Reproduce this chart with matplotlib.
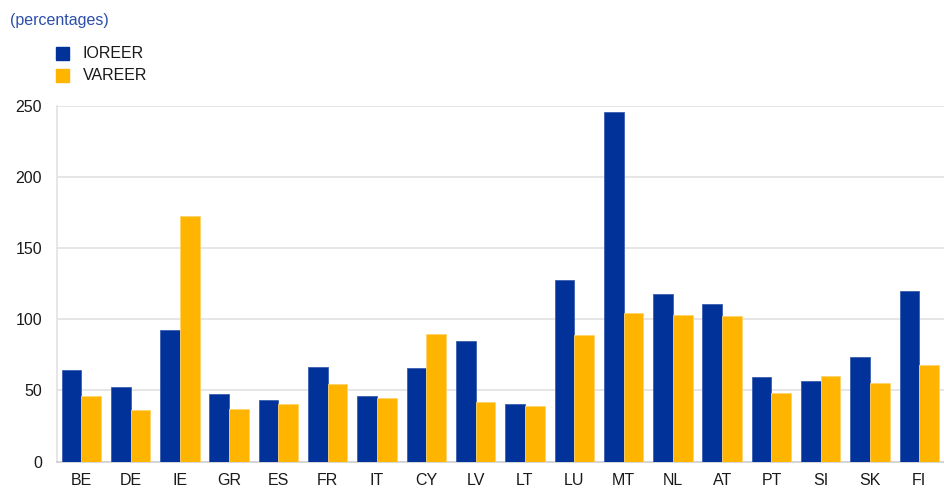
import numpy as np
import matplotlib.pyplot as plt
from matplotlib.patches import Rectangle

plt.rcParams['font.family'] = ['Liberation Sans', 'DejaVu Sans']

countries = ['BE', 'DE', 'IE', 'GR', 'ES', 'FR', 'IT', 'CY', 'LV',
             'LT', 'LU', 'MT', 'NL', 'AT', 'PT', 'SI', 'SK', 'FI']
ioreer = [64.2, 52.3, 92.6, 47.6, 43.1, 66.6, 46.0, 65.6, 84.8,
          40.3, 127.9, 245.6, 117.6, 110.8, 59.8, 56.7, 73.4, 120.0]
vareer = [46.2, 36.6, 172.9, 36.8, 40.6, 54.8, 44.5, 89.5, 42.2,
          39.4, 89.3, 104.7, 103.1, 102.4, 48.1, 60.2, 55.3, 67.7]
series_names = ['IOREER', 'VAREER']
yticks = [0, 50, 100, 150, 200, 250]

blue = '#003299'
yellow = '#ffb400'
grid_col = '#e1e1e1'
text_col = '#1a1a1a'

fig = plt.figure(figsize=(9.44, 5.04), dpi=100)
ax = fig.add_axes([0.060, 0.084, 0.940, 0.706])

x = np.arange(len(countries))
w = 0.4
ax.bar(x - w / 2, ioreer, w, color=blue, edgecolor='#3b5fb0', linewidth=0.6, zorder=3)
ax.bar(x + w / 2, vareer, w, color=yellow, edgecolor='#ffd36a', linewidth=0.6, zorder=3)

ax.set_xlim(-0.5, len(countries) - 0.5)
ax.set_ylim(0, 250)
ax.set_yticks(yticks)
ax.set_xticks(x)
ax.set_xticklabels(countries)
ax.yaxis.grid(True, color=grid_col, linewidth=1.2, zorder=0)
ax.tick_params(axis='both', length=0, labelsize=11.5, colors=text_col)
ax.tick_params(axis='x', pad=8)
ax.tick_params(axis='y', pad=10.5)

for side in ['top', 'right']:
    ax.spines[side].set_visible(False)
ax.spines['left'].set_color(grid_col)
ax.spines['left'].set_linewidth(1.2)
ax.spines['bottom'].set_color('#d0d0d0')
ax.spines['bottom'].set_linewidth(1.2)

fig.text(10 / 944, 1 - 20 / 504, '(percentages)', color='#2b4fa8',
         fontsize=11.5, va='center', ha='left')

# legend drawn as squares + labels in figure coords
for i, (name, col) in enumerate(zip(series_names, [blue, yellow])):
    yc = 1 - (53.5 + 22 * i) / 504
    fig.patches.append(Rectangle((56 / 944, yc - 6.5 / 504), 13 / 944, 13 / 504,
                                 transform=fig.transFigure, color=col))
    fig.text(83 / 944, yc, name, fontsize=11.5, color=text_col,
             va='center', ha='left')

plt.savefig('out.png', dpi=100)
